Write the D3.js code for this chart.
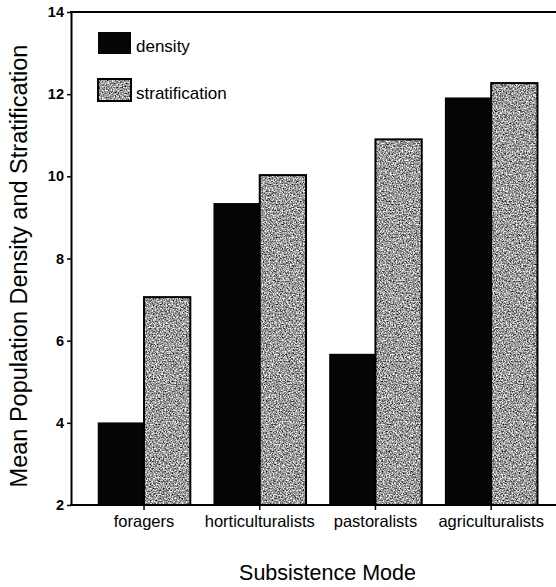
<!DOCTYPE html>
<html>
<head>
<meta charset="utf-8">
<script src="https://cdn.jsdelivr.net/npm/d3@7"></script>
<style>
  html, body { margin: 0; padding: 0; background: #fff; }
  svg { display: block; font-family: "Liberation Sans", Arial, Helvetica, sans-serif; }
</style>
</head>
<body>
<svg id="chart" width="556" height="587"></svg>
<script>
const categories = ["foragers", "horticulturalists", "pastoralists", "agriculturalists"];
const seriesNames = ["density", "stratification"];
const density = [4.01, 9.35, 5.68, 11.92];
const stratification = [7.06, 10.03, 10.9, 12.27];
const yTicks = [2, 4, 6, 8, 10, 12, 14];
const yTitle = "Mean Population Density and Stratification";
const xTitle = "Subsistence Mode";

const svg = d3.select("#chart");
const axisX = 71, plotRight = 556;

const defs = svg.append("defs");
const f = defs.append("filter").attr("id", "stipple")
  .attr("x", 0).attr("y", 0).attr("width", 1).attr("height", 1)
  .attr("color-interpolation-filters", "sRGB");
f.append("feTurbulence").attr("type", "fractalNoise").attr("baseFrequency", 0.7)
  .attr("numOctaves", 2).attr("seed", 7).attr("result", "n");
f.append("feColorMatrix").attr("in", "n").attr("type", "matrix")
  .attr("values", "1.7 0 0 0 -0.24  1.7 0 0 0 -0.24  1.7 0 0 0 -0.24  0 0 0 0 1")
  .attr("result", "g");
f.append("feComposite").attr("in", "g").attr("in2", "SourceGraphic").attr("operator", "in");

const y = d3.scaleLinear().domain([2, 14]).range([505, 12]);
const x0 = d3.scaleBand().domain(categories).range([74.6, 560.6]).paddingInner(0.2).paddingOuter(0.2);
const x1 = d3.scaleBand().domain(seriesNames).range([0, x0.bandwidth()]);

const data = categories.map((c, i) => ({ cat: c, values: [
  { key: "density", v: density[i] },
  { key: "stratification", v: stratification[i] }
]}));

const groups = svg.append("g").selectAll("g").data(data).join("g")
  .attr("transform", d => `translate(${x0(d.cat)},0)`);

groups.selectAll("rect.den").data(d => d.values.filter(v => v.key === "density")).join("rect")
  .attr("class", "den")
  .attr("x", d => x1(d.key)).attr("width", x1.bandwidth())
  .attr("y", d => y(d.v)).attr("height", d => y(2) - y(d.v))
  .attr("fill", "#050505");

groups.selectAll("rect.strat").data(d => d.values.filter(v => v.key === "stratification")).join("rect")
  .attr("class", "strat")
  .attr("x", d => x1(d.key)).attr("width", x1.bandwidth())
  .attr("y", d => y(d.v)).attr("height", d => y(2) - y(d.v))
  .attr("fill", "#999").attr("filter", "url(#stipple)");
groups.selectAll("rect.stratline").data(d => d.values.filter(v => v.key === "stratification")).join("rect")
  .attr("class", "stratline")
  .attr("x", d => x1(d.key)).attr("width", x1.bandwidth())
  .attr("y", d => y(d.v)).attr("height", d => y(2) - y(d.v))
  .attr("fill", "none").attr("stroke", "#000").attr("stroke-width", 2);

const yAxis = svg.append("g").attr("transform", `translate(${axisX},0)`)
  .call(d3.axisLeft(y).tickValues(yTicks).tickFormat(d3.format("d")).tickSize(4).tickSizeOuter(0).tickPadding(3));
yAxis.select(".domain").attr("stroke-width", 2);
yAxis.selectAll(".tick line").attr("stroke-width", 1.5);
yAxis.selectAll(".tick text").attr("font-size", 14.5).attr("font-weight", "bold")
  .attr("font-family", "'Liberation Sans', Arial, sans-serif").attr("fill", "#000");

const xAxis = svg.append("g").attr("transform", `translate(0,${y(2)})`)
  .call(d3.axisBottom(x0).tickSize(5).tickSizeOuter(0).tickPadding(5.5));
xAxis.select(".domain").remove();
xAxis.selectAll(".tick line").attr("stroke-width", 1.5);
xAxis.selectAll(".tick text").attr("font-size", 16.5)
  .attr("font-family", "'Liberation Sans', Arial, sans-serif").attr("fill", "#000");

svg.append("line").attr("x1", axisX - 1).attr("x2", plotRight).attr("y1", y(2)).attr("y2", y(2))
  .attr("stroke", "#000").attr("stroke-width", 2);
svg.append("line").attr("x1", axisX - 1).attr("x2", plotRight).attr("y1", y(14)).attr("y2", y(14))
  .attr("stroke", "#000").attr("stroke-width", 2);

const legend = svg.append("g");
const legY = [32, 79];
seriesNames.forEach((s, i) => {
  const g = legend.append("g").attr("transform", `translate(98,${legY[i]})`);
  if (s === "density") {
    g.append("rect").attr("width", 33).attr("height", 22).attr("fill", "#050505");
  } else {
    g.append("rect").attr("width", 33).attr("height", 22).attr("fill", "#999").attr("filter", "url(#stipple)");
    g.append("rect").attr("width", 33).attr("height", 22).attr("fill", "none").attr("stroke", "#000").attr("stroke-width", 2);
  }
  g.append("text").attr("x", 38).attr("y", 20).attr("font-size", 17).attr("fill", "#000").text(s);
});

svg.append("text").attr("transform", `translate(27,266) rotate(-90)`)
  .attr("text-anchor", "middle").attr("font-size", 23.5).attr("fill", "#000").text(yTitle);
svg.append("text").attr("x", 327.5).attr("y", 580)
  .attr("text-anchor", "middle").attr("font-size", 21.5).attr("fill", "#000").text(xTitle);
</script>
</body>
</html>
